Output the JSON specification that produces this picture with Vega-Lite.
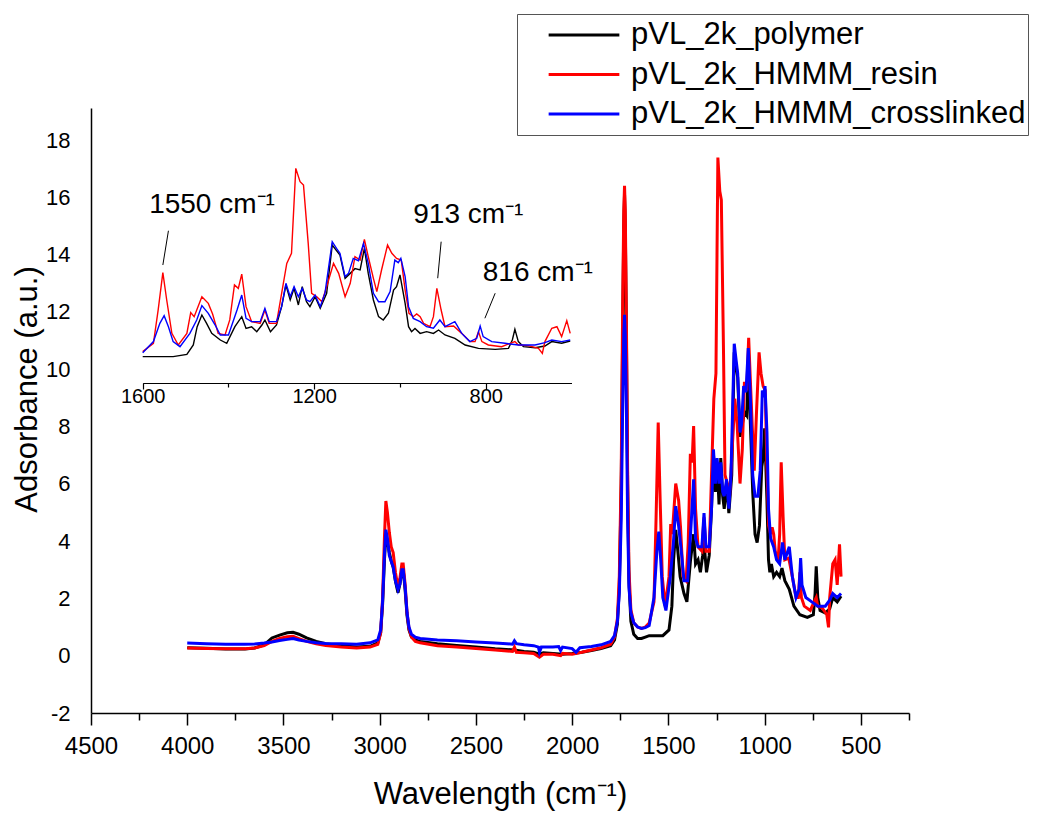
{
  "$schema": "https://vega.github.io/schema/vega-lite/v6.json",
  "width": 818,
  "height": 605,
  "autosize": {"type": "none"},
  "padding": {"left": 91, "top": 108, "right": 137, "bottom": 102},
  "config": {"font": "Liberation Sans", "view": {"stroke": null}, "axis": {"labelColor": "#000", "titleColor": "#000", "titleFontWeight": "normal", "grid": false}},
  "datasets": {
    "spectra": [
      {"s":"pVL_2k_polymer","wn":4000,"val":0.28},{"s":"pVL_2k_polymer","wn":3900,"val":0.26},{"s":"pVL_2k_polymer","wn":3800,"val":0.23},{"s":"pVL_2k_polymer","wn":3700,"val":0.23},{"s":"pVL_2k_polymer","wn":3650,"val":0.27},{"s":"pVL_2k_polymer","wn":3600,"val":0.38},{"s":"pVL_2k_polymer","wn":3560,"val":0.62},{"s":"pVL_2k_polymer","wn":3520,"val":0.72},{"s":"pVL_2k_polymer","wn":3480,"val":0.8},{"s":"pVL_2k_polymer","wn":3450,"val":0.82},{"s":"pVL_2k_polymer","wn":3420,"val":0.75},{"s":"pVL_2k_polymer","wn":3380,"val":0.62},{"s":"pVL_2k_polymer","wn":3330,"val":0.5},{"s":"pVL_2k_polymer","wn":3280,"val":0.42},{"s":"pVL_2k_polymer","wn":3200,"val":0.35},{"s":"pVL_2k_polymer","wn":3120,"val":0.3},{"s":"pVL_2k_polymer","wn":3050,"val":0.33},{"s":"pVL_2k_polymer","wn":3010,"val":0.45},{"s":"pVL_2k_polymer","wn":2995,"val":0.8},{"s":"pVL_2k_polymer","wn":2985,"val":1.8},{"s":"pVL_2k_polymer","wn":2975,"val":3.4},{"s":"pVL_2k_polymer","wn":2968,"val":4.2},{"s":"pVL_2k_polymer","wn":2960,"val":4.0},{"s":"pVL_2k_polymer","wn":2950,"val":3.6},{"s":"pVL_2k_polymer","wn":2940,"val":3.3},{"s":"pVL_2k_polymer","wn":2930,"val":3.1},{"s":"pVL_2k_polymer","wn":2918,"val":2.6},{"s":"pVL_2k_polymer","wn":2905,"val":2.2},{"s":"pVL_2k_polymer","wn":2895,"val":2.5},{"s":"pVL_2k_polymer","wn":2885,"val":3.0},{"s":"pVL_2k_polymer","wn":2878,"val":3.0},{"s":"pVL_2k_polymer","wn":2868,"val":2.3},{"s":"pVL_2k_polymer","wn":2858,"val":1.4},{"s":"pVL_2k_polymer","wn":2848,"val":0.9},{"s":"pVL_2k_polymer","wn":2835,"val":0.65},{"s":"pVL_2k_polymer","wn":2815,"val":0.55},{"s":"pVL_2k_polymer","wn":2790,"val":0.5},{"s":"pVL_2k_polymer","wn":2700,"val":0.42},{"s":"pVL_2k_polymer","wn":2600,"val":0.36},{"s":"pVL_2k_polymer","wn":2500,"val":0.3},{"s":"pVL_2k_polymer","wn":2400,"val":0.24},{"s":"pVL_2k_polymer","wn":2300,"val":0.2},{"s":"pVL_2k_polymer","wn":2250,"val":0.15},{"s":"pVL_2k_polymer","wn":2200,"val":0.12},{"s":"pVL_2k_polymer","wn":2170,"val":0.05},{"s":"pVL_2k_polymer","wn":2150,"val":0.1},{"s":"pVL_2k_polymer","wn":2100,"val":0.08},{"s":"pVL_2k_polymer","wn":2050,"val":0.05},{"s":"pVL_2k_polymer","wn":2000,"val":0.08},{"s":"pVL_2k_polymer","wn":1950,"val":0.12},{"s":"pVL_2k_polymer","wn":1900,"val":0.18},{"s":"pVL_2k_polymer","wn":1850,"val":0.25},{"s":"pVL_2k_polymer","wn":1800,"val":0.35},{"s":"pVL_2k_polymer","wn":1780,"val":0.55},{"s":"pVL_2k_polymer","wn":1765,"val":1.1},{"s":"pVL_2k_polymer","wn":1755,"val":2.4},{"s":"pVL_2k_polymer","wn":1745,"val":6.0},{"s":"pVL_2k_polymer","wn":1738,"val":11.0},{"s":"pVL_2k_polymer","wn":1732,"val":15.0},{"s":"pVL_2k_polymer","wn":1728,"val":16.1},{"s":"pVL_2k_polymer","wn":1724,"val":15.0},{"s":"pVL_2k_polymer","wn":1718,"val":11.0},{"s":"pVL_2k_polymer","wn":1712,"val":6.0},{"s":"pVL_2k_polymer","wn":1705,"val":2.6},{"s":"pVL_2k_polymer","wn":1695,"val":1.2},{"s":"pVL_2k_polymer","wn":1680,"val":0.75},{"s":"pVL_2k_polymer","wn":1660,"val":0.6},{"s":"pVL_2k_polymer","wn":1640,"val":0.6},{"s":"pVL_2k_polymer","wn":1620,"val":0.65},{"s":"pVL_2k_polymer","wn":1600,"val":0.7},{"s":"pVL_2k_polymer","wn":1529,"val":0.7},{"s":"pVL_2k_polymer","wn":1497,"val":0.9},{"s":"pVL_2k_polymer","wn":1482,"val":1.73},{"s":"pVL_2k_polymer","wn":1473,"val":3.35},{"s":"pVL_2k_polymer","wn":1462,"val":4.39},{"s":"pVL_2k_polymer","wn":1451,"val":3.65},{"s":"pVL_2k_polymer","wn":1439,"val":2.76},{"s":"pVL_2k_polymer","wn":1419,"val":2.17},{"s":"pVL_2k_polymer","wn":1404,"val":1.88},{"s":"pVL_2k_polymer","wn":1385,"val":3.35},{"s":"pVL_2k_polymer","wn":1369,"val":4.24},{"s":"pVL_2k_polymer","wn":1359,"val":3.2},{"s":"pVL_2k_polymer","wn":1346,"val":3.35},{"s":"pVL_2k_polymer","wn":1334,"val":2.91},{"s":"pVL_2k_polymer","wn":1322,"val":3.5},{"s":"pVL_2k_polymer","wn":1315,"val":3.95},{"s":"pVL_2k_polymer","wn":1302,"val":2.91},{"s":"pVL_2k_polymer","wn":1288,"val":3.5},{"s":"pVL_2k_polymer","wn":1276,"val":5.13},{"s":"pVL_2k_polymer","wn":1266,"val":7.05},{"s":"pVL_2k_polymer","wn":1256,"val":5.72},{"s":"pVL_2k_polymer","wn":1247,"val":6.75},{"s":"pVL_2k_polymer","wn":1237,"val":5.28},{"s":"pVL_2k_polymer","wn":1228,"val":6.9},{"s":"pVL_2k_polymer","wn":1218,"val":5.57},{"s":"pVL_2k_polymer","wn":1210,"val":5.13},{"s":"pVL_2k_polymer","wn":1198,"val":6.01},{"s":"pVL_2k_polymer","wn":1186,"val":4.98},{"s":"pVL_2k_polymer","wn":1171,"val":6.31},{"s":"pVL_2k_polymer","wn":1158,"val":10.59},{"s":"pVL_2k_polymer","wn":1140,"val":9.71},{"s":"pVL_2k_polymer","wn":1128,"val":7.64},{"s":"pVL_2k_polymer","wn":1116,"val":8.08},{"s":"pVL_2k_polymer","wn":1105,"val":8.5},{"s":"pVL_2k_polymer","wn":1093,"val":8.38},{"s":"pVL_2k_polymer","wn":1083,"val":10.3},{"s":"pVL_2k_polymer","wn":1074,"val":8.08},{"s":"pVL_2k_polymer","wn":1062,"val":5.72},{"s":"pVL_2k_polymer","wn":1050,"val":4.24},{"s":"pVL_2k_polymer","wn":1039,"val":3.95},{"s":"pVL_2k_polymer","wn":1027,"val":4.54},{"s":"pVL_2k_polymer","wn":1015,"val":6.6},{"s":"pVL_2k_polymer","wn":1008,"val":6.9},{"s":"pVL_2k_polymer","wn":1000,"val":7.94},{"s":"pVL_2k_polymer","wn":988,"val":5.42},{"s":"pVL_2k_polymer","wn":980,"val":3.35},{"s":"pVL_2k_polymer","wn":973,"val":2.91},{"s":"pVL_2k_polymer","wn":965,"val":3.2},{"s":"pVL_2k_polymer","wn":953,"val":2.76},{"s":"pVL_2k_polymer","wn":938,"val":2.91},{"s":"pVL_2k_polymer","wn":922,"val":2.76},{"s":"pVL_2k_polymer","wn":910,"val":3.06},{"s":"pVL_2k_polymer","wn":895,"val":2.62},{"s":"pVL_2k_polymer","wn":872,"val":2.32},{"s":"pVL_2k_polymer","wn":848,"val":1.73},{"s":"pVL_2k_polymer","wn":817,"val":1.43},{"s":"pVL_2k_polymer","wn":778,"val":1.34},{"s":"pVL_2k_polymer","wn":747,"val":1.43},{"s":"pVL_2k_polymer","wn":738,"val":2.17},{"s":"pVL_2k_polymer","wn":732,"val":3.12},{"s":"pVL_2k_polymer","wn":724,"val":2.03},{"s":"pVL_2k_polymer","wn":712,"val":1.58},{"s":"pVL_2k_polymer","wn":685,"val":1.49},{"s":"pVL_2k_polymer","wn":662,"val":1.64},{"s":"pVL_2k_polymer","wn":646,"val":2.03},{"s":"pVL_2k_polymer","wn":623,"val":1.88},{"s":"pVL_2k_polymer","wn":603,"val":2.08},

      {"s":"pVL_2k_HMMM_resin","wn":4000,"val":0.27},{"s":"pVL_2k_HMMM_resin","wn":3900,"val":0.25},{"s":"pVL_2k_HMMM_resin","wn":3800,"val":0.24},{"s":"pVL_2k_HMMM_resin","wn":3700,"val":0.24},{"s":"pVL_2k_HMMM_resin","wn":3650,"val":0.27},{"s":"pVL_2k_HMMM_resin","wn":3600,"val":0.35},{"s":"pVL_2k_HMMM_resin","wn":3560,"val":0.5},{"s":"pVL_2k_HMMM_resin","wn":3520,"val":0.6},{"s":"pVL_2k_HMMM_resin","wn":3480,"val":0.66},{"s":"pVL_2k_HMMM_resin","wn":3450,"val":0.68},{"s":"pVL_2k_HMMM_resin","wn":3420,"val":0.6},{"s":"pVL_2k_HMMM_resin","wn":3380,"val":0.5},{"s":"pVL_2k_HMMM_resin","wn":3330,"val":0.42},{"s":"pVL_2k_HMMM_resin","wn":3280,"val":0.36},{"s":"pVL_2k_HMMM_resin","wn":3200,"val":0.3},{"s":"pVL_2k_HMMM_resin","wn":3120,"val":0.27},{"s":"pVL_2k_HMMM_resin","wn":3050,"val":0.3},{"s":"pVL_2k_HMMM_resin","wn":3010,"val":0.4},{"s":"pVL_2k_HMMM_resin","wn":2995,"val":0.8},{"s":"pVL_2k_HMMM_resin","wn":2985,"val":2.0},{"s":"pVL_2k_HMMM_resin","wn":2975,"val":4.2},{"s":"pVL_2k_HMMM_resin","wn":2968,"val":5.4},{"s":"pVL_2k_HMMM_resin","wn":2960,"val":5.0},{"s":"pVL_2k_HMMM_resin","wn":2950,"val":4.3},{"s":"pVL_2k_HMMM_resin","wn":2940,"val":3.8},{"s":"pVL_2k_HMMM_resin","wn":2930,"val":3.6},{"s":"pVL_2k_HMMM_resin","wn":2918,"val":2.9},{"s":"pVL_2k_HMMM_resin","wn":2905,"val":2.4},{"s":"pVL_2k_HMMM_resin","wn":2895,"val":2.7},{"s":"pVL_2k_HMMM_resin","wn":2885,"val":3.2},{"s":"pVL_2k_HMMM_resin","wn":2878,"val":3.2},{"s":"pVL_2k_HMMM_resin","wn":2868,"val":2.5},{"s":"pVL_2k_HMMM_resin","wn":2858,"val":1.5},{"s":"pVL_2k_HMMM_resin","wn":2848,"val":0.95},{"s":"pVL_2k_HMMM_resin","wn":2835,"val":0.65},{"s":"pVL_2k_HMMM_resin","wn":2815,"val":0.5},{"s":"pVL_2k_HMMM_resin","wn":2790,"val":0.45},{"s":"pVL_2k_HMMM_resin","wn":2700,"val":0.35},{"s":"pVL_2k_HMMM_resin","wn":2600,"val":0.3},{"s":"pVL_2k_HMMM_resin","wn":2500,"val":0.25},{"s":"pVL_2k_HMMM_resin","wn":2400,"val":0.2},{"s":"pVL_2k_HMMM_resin","wn":2310,"val":0.15},{"s":"pVL_2k_HMMM_resin","wn":2300,"val":0.3},{"s":"pVL_2k_HMMM_resin","wn":2290,"val":0.12},{"s":"pVL_2k_HMMM_resin","wn":2250,"val":0.1},{"s":"pVL_2k_HMMM_resin","wn":2200,"val":0.08},{"s":"pVL_2k_HMMM_resin","wn":2170,"val":-0.05},{"s":"pVL_2k_HMMM_resin","wn":2150,"val":0.05},{"s":"pVL_2k_HMMM_resin","wn":2100,"val":0.05},{"s":"pVL_2k_HMMM_resin","wn":2060,"val":0.0},{"s":"pVL_2k_HMMM_resin","wn":2050,"val":0.08},{"s":"pVL_2k_HMMM_resin","wn":2000,"val":0.05},{"s":"pVL_2k_HMMM_resin","wn":1950,"val":0.12},{"s":"pVL_2k_HMMM_resin","wn":1900,"val":0.2},{"s":"pVL_2k_HMMM_resin","wn":1850,"val":0.28},{"s":"pVL_2k_HMMM_resin","wn":1800,"val":0.4},{"s":"pVL_2k_HMMM_resin","wn":1780,"val":0.65},{"s":"pVL_2k_HMMM_resin","wn":1765,"val":1.3},{"s":"pVL_2k_HMMM_resin","wn":1755,"val":2.8},{"s":"pVL_2k_HMMM_resin","wn":1745,"val":6.5},{"s":"pVL_2k_HMMM_resin","wn":1738,"val":12.0},{"s":"pVL_2k_HMMM_resin","wn":1732,"val":15.5},{"s":"pVL_2k_HMMM_resin","wn":1728,"val":16.4},{"s":"pVL_2k_HMMM_resin","wn":1724,"val":15.5},{"s":"pVL_2k_HMMM_resin","wn":1718,"val":11.5},{"s":"pVL_2k_HMMM_resin","wn":1712,"val":6.5},{"s":"pVL_2k_HMMM_resin","wn":1705,"val":3.0},{"s":"pVL_2k_HMMM_resin","wn":1695,"val":1.6},{"s":"pVL_2k_HMMM_resin","wn":1680,"val":1.15},{"s":"pVL_2k_HMMM_resin","wn":1660,"val":1.0},{"s":"pVL_2k_HMMM_resin","wn":1640,"val":0.95},{"s":"pVL_2k_HMMM_resin","wn":1620,"val":1.0},{"s":"pVL_2k_HMMM_resin","wn":1600,"val":1.14},{"s":"pVL_2k_HMMM_resin","wn":1575,"val":1.88},{"s":"pVL_2k_HMMM_resin","wn":1564,"val":4.83},{"s":"pVL_2k_HMMM_resin","wn":1553,"val":8.14},{"s":"pVL_2k_HMMM_resin","wn":1544,"val":5.72},{"s":"pVL_2k_HMMM_resin","wn":1532,"val":2.76},{"s":"pVL_2k_HMMM_resin","wn":1517,"val":1.73},{"s":"pVL_2k_HMMM_resin","wn":1497,"val":2.76},{"s":"pVL_2k_HMMM_resin","wn":1488,"val":4.6},{"s":"pVL_2k_HMMM_resin","wn":1480,"val":4.24},{"s":"pVL_2k_HMMM_resin","wn":1462,"val":6.01},{"s":"pVL_2k_HMMM_resin","wn":1447,"val":5.42},{"s":"pVL_2k_HMMM_resin","wn":1437,"val":4.48},{"s":"pVL_2k_HMMM_resin","wn":1424,"val":2.76},{"s":"pVL_2k_HMMM_resin","wn":1408,"val":2.62},{"s":"pVL_2k_HMMM_resin","wn":1397,"val":3.95},{"s":"pVL_2k_HMMM_resin","wn":1386,"val":7.05},{"s":"pVL_2k_HMMM_resin","wn":1377,"val":6.75},{"s":"pVL_2k_HMMM_resin","wn":1369,"val":8.02},{"s":"pVL_2k_HMMM_resin","wn":1359,"val":5.13},{"s":"pVL_2k_HMMM_resin","wn":1346,"val":3.8},{"s":"pVL_2k_HMMM_resin","wn":1326,"val":3.65},{"s":"pVL_2k_HMMM_resin","wn":1315,"val":4.83},{"s":"pVL_2k_HMMM_resin","wn":1305,"val":3.65},{"s":"pVL_2k_HMMM_resin","wn":1288,"val":3.65},{"s":"pVL_2k_HMMM_resin","wn":1276,"val":6.31},{"s":"pVL_2k_HMMM_resin","wn":1264,"val":8.97},{"s":"pVL_2k_HMMM_resin","wn":1253,"val":9.86},{"s":"pVL_2k_HMMM_resin","wn":1243,"val":17.39},{"s":"pVL_2k_HMMM_resin","wn":1233,"val":16.21},{"s":"pVL_2k_HMMM_resin","wn":1225,"val":15.91},{"s":"pVL_2k_HMMM_resin","wn":1214,"val":10.74},{"s":"pVL_2k_HMMM_resin","wn":1206,"val":6.31},{"s":"pVL_2k_HMMM_resin","wn":1194,"val":6.01},{"s":"pVL_2k_HMMM_resin","wn":1182,"val":5.57},{"s":"pVL_2k_HMMM_resin","wn":1171,"val":6.9},{"s":"pVL_2k_HMMM_resin","wn":1155,"val":8.97},{"s":"pVL_2k_HMMM_resin","wn":1143,"val":8.08},{"s":"pVL_2k_HMMM_resin","wn":1128,"val":6.01},{"s":"pVL_2k_HMMM_resin","wn":1116,"val":7.2},{"s":"pVL_2k_HMMM_resin","wn":1105,"val":9.56},{"s":"pVL_2k_HMMM_resin","wn":1093,"val":9.26},{"s":"pVL_2k_HMMM_resin","wn":1083,"val":11.1},{"s":"pVL_2k_HMMM_resin","wn":1074,"val":9.56},{"s":"pVL_2k_HMMM_resin","wn":1062,"val":7.64},{"s":"pVL_2k_HMMM_resin","wn":1054,"val":6.46},{"s":"pVL_2k_HMMM_resin","wn":1043,"val":8.38},{"s":"pVL_2k_HMMM_resin","wn":1029,"val":10.59},{"s":"pVL_2k_HMMM_resin","wn":1019,"val":9.86},{"s":"pVL_2k_HMMM_resin","wn":1008,"val":9.41},{"s":"pVL_2k_HMMM_resin","wn":997,"val":9.26},{"s":"pVL_2k_HMMM_resin","wn":988,"val":6.6},{"s":"pVL_2k_HMMM_resin","wn":979,"val":4.54},{"s":"pVL_2k_HMMM_resin","wn":969,"val":4.24},{"s":"pVL_2k_HMMM_resin","wn":961,"val":4.48},{"s":"pVL_2k_HMMM_resin","wn":953,"val":4.24},{"s":"pVL_2k_HMMM_resin","wn":945,"val":3.65},{"s":"pVL_2k_HMMM_resin","wn":930,"val":3.35},{"s":"pVL_2k_HMMM_resin","wn":922,"val":4.24},{"s":"pVL_2k_HMMM_resin","wn":914,"val":6.75},{"s":"pVL_2k_HMMM_resin","wn":904,"val":4.83},{"s":"pVL_2k_HMMM_resin","wn":895,"val":3.35},{"s":"pVL_2k_HMMM_resin","wn":875,"val":3.41},{"s":"pVL_2k_HMMM_resin","wn":856,"val":2.76},{"s":"pVL_2k_HMMM_resin","wn":837,"val":2.03},{"s":"pVL_2k_HMMM_resin","wn":825,"val":2.03},{"s":"pVL_2k_HMMM_resin","wn":817,"val":2.91},{"s":"pVL_2k_HMMM_resin","wn":809,"val":2.03},{"s":"pVL_2k_HMMM_resin","wn":794,"val":1.73},{"s":"pVL_2k_HMMM_resin","wn":763,"val":1.58},{"s":"pVL_2k_HMMM_resin","wn":743,"val":1.88},{"s":"pVL_2k_HMMM_resin","wn":732,"val":2.03},{"s":"pVL_2k_HMMM_resin","wn":724,"val":1.73},{"s":"pVL_2k_HMMM_resin","wn":701,"val":1.67},{"s":"pVL_2k_HMMM_resin","wn":677,"val":1.43},{"s":"pVL_2k_HMMM_resin","wn":668,"val":0.99},{"s":"pVL_2k_HMMM_resin","wn":662,"val":2.03},{"s":"pVL_2k_HMMM_resin","wn":646,"val":3.21},{"s":"pVL_2k_HMMM_resin","wn":634,"val":3.35},{"s":"pVL_2k_HMMM_resin","wn":623,"val":2.47},{"s":"pVL_2k_HMMM_resin","wn":611,"val":3.89},{"s":"pVL_2k_HMMM_resin","wn":603,"val":2.76},

      {"s":"pVL_2k_HMMM_crosslinked","wn":4000,"val":0.44},{"s":"pVL_2k_HMMM_crosslinked","wn":3900,"val":0.42},{"s":"pVL_2k_HMMM_crosslinked","wn":3800,"val":0.4},{"s":"pVL_2k_HMMM_crosslinked","wn":3700,"val":0.4},{"s":"pVL_2k_HMMM_crosslinked","wn":3650,"val":0.41},{"s":"pVL_2k_HMMM_crosslinked","wn":3600,"val":0.44},{"s":"pVL_2k_HMMM_crosslinked","wn":3560,"val":0.48},{"s":"pVL_2k_HMMM_crosslinked","wn":3520,"val":0.53},{"s":"pVL_2k_HMMM_crosslinked","wn":3480,"val":0.57},{"s":"pVL_2k_HMMM_crosslinked","wn":3450,"val":0.6},{"s":"pVL_2k_HMMM_crosslinked","wn":3420,"val":0.55},{"s":"pVL_2k_HMMM_crosslinked","wn":3380,"val":0.5},{"s":"pVL_2k_HMMM_crosslinked","wn":3330,"val":0.45},{"s":"pVL_2k_HMMM_crosslinked","wn":3280,"val":0.43},{"s":"pVL_2k_HMMM_crosslinked","wn":3200,"val":0.42},{"s":"pVL_2k_HMMM_crosslinked","wn":3120,"val":0.4},{"s":"pVL_2k_HMMM_crosslinked","wn":3050,"val":0.45},{"s":"pVL_2k_HMMM_crosslinked","wn":3010,"val":0.55},{"s":"pVL_2k_HMMM_crosslinked","wn":2995,"val":0.9},{"s":"pVL_2k_HMMM_crosslinked","wn":2985,"val":1.9},{"s":"pVL_2k_HMMM_crosslinked","wn":2975,"val":3.6},{"s":"pVL_2k_HMMM_crosslinked","wn":2968,"val":4.4},{"s":"pVL_2k_HMMM_crosslinked","wn":2960,"val":4.1},{"s":"pVL_2k_HMMM_crosslinked","wn":2950,"val":3.5},{"s":"pVL_2k_HMMM_crosslinked","wn":2940,"val":3.3},{"s":"pVL_2k_HMMM_crosslinked","wn":2930,"val":3.1},{"s":"pVL_2k_HMMM_crosslinked","wn":2918,"val":2.6},{"s":"pVL_2k_HMMM_crosslinked","wn":2905,"val":2.3},{"s":"pVL_2k_HMMM_crosslinked","wn":2895,"val":2.5},{"s":"pVL_2k_HMMM_crosslinked","wn":2885,"val":3.0},{"s":"pVL_2k_HMMM_crosslinked","wn":2878,"val":3.0},{"s":"pVL_2k_HMMM_crosslinked","wn":2868,"val":2.4},{"s":"pVL_2k_HMMM_crosslinked","wn":2858,"val":1.5},{"s":"pVL_2k_HMMM_crosslinked","wn":2848,"val":1.0},{"s":"pVL_2k_HMMM_crosslinked","wn":2835,"val":0.75},{"s":"pVL_2k_HMMM_crosslinked","wn":2815,"val":0.65},{"s":"pVL_2k_HMMM_crosslinked","wn":2790,"val":0.6},{"s":"pVL_2k_HMMM_crosslinked","wn":2700,"val":0.55},{"s":"pVL_2k_HMMM_crosslinked","wn":2600,"val":0.52},{"s":"pVL_2k_HMMM_crosslinked","wn":2500,"val":0.48},{"s":"pVL_2k_HMMM_crosslinked","wn":2400,"val":0.44},{"s":"pVL_2k_HMMM_crosslinked","wn":2340,"val":0.42},{"s":"pVL_2k_HMMM_crosslinked","wn":2310,"val":0.4},{"s":"pVL_2k_HMMM_crosslinked","wn":2300,"val":0.52},{"s":"pVL_2k_HMMM_crosslinked","wn":2290,"val":0.42},{"s":"pVL_2k_HMMM_crosslinked","wn":2250,"val":0.38},{"s":"pVL_2k_HMMM_crosslinked","wn":2200,"val":0.35},{"s":"pVL_2k_HMMM_crosslinked","wn":2175,"val":0.3},{"s":"pVL_2k_HMMM_crosslinked","wn":2170,"val":0.12},{"s":"pVL_2k_HMMM_crosslinked","wn":2160,"val":0.3},{"s":"pVL_2k_HMMM_crosslinked","wn":2150,"val":0.3},{"s":"pVL_2k_HMMM_crosslinked","wn":2100,"val":0.3},{"s":"pVL_2k_HMMM_crosslinked","wn":2070,"val":0.32},{"s":"pVL_2k_HMMM_crosslinked","wn":2060,"val":0.18},{"s":"pVL_2k_HMMM_crosslinked","wn":2050,"val":0.3},{"s":"pVL_2k_HMMM_crosslinked","wn":2000,"val":0.25},{"s":"pVL_2k_HMMM_crosslinked","wn":1980,"val":0.12},{"s":"pVL_2k_HMMM_crosslinked","wn":1960,"val":0.28},{"s":"pVL_2k_HMMM_crosslinked","wn":1900,"val":0.32},{"s":"pVL_2k_HMMM_crosslinked","wn":1850,"val":0.38},{"s":"pVL_2k_HMMM_crosslinked","wn":1800,"val":0.5},{"s":"pVL_2k_HMMM_crosslinked","wn":1780,"val":0.7},{"s":"pVL_2k_HMMM_crosslinked","wn":1765,"val":1.2},{"s":"pVL_2k_HMMM_crosslinked","wn":1755,"val":2.2},{"s":"pVL_2k_HMMM_crosslinked","wn":1745,"val":4.8},{"s":"pVL_2k_HMMM_crosslinked","wn":1738,"val":8.5},{"s":"pVL_2k_HMMM_crosslinked","wn":1732,"val":11.2},{"s":"pVL_2k_HMMM_crosslinked","wn":1728,"val":11.9},{"s":"pVL_2k_HMMM_crosslinked","wn":1724,"val":11.2},{"s":"pVL_2k_HMMM_crosslinked","wn":1718,"val":8.5},{"s":"pVL_2k_HMMM_crosslinked","wn":1712,"val":4.8},{"s":"pVL_2k_HMMM_crosslinked","wn":1705,"val":2.4},{"s":"pVL_2k_HMMM_crosslinked","wn":1695,"val":1.5},{"s":"pVL_2k_HMMM_crosslinked","wn":1680,"val":1.15},{"s":"pVL_2k_HMMM_crosslinked","wn":1660,"val":1.0},{"s":"pVL_2k_HMMM_crosslinked","wn":1640,"val":0.95},{"s":"pVL_2k_HMMM_crosslinked","wn":1620,"val":0.98},{"s":"pVL_2k_HMMM_crosslinked","wn":1600,"val":1.05},{"s":"pVL_2k_HMMM_crosslinked","wn":1575,"val":2.03},{"s":"pVL_2k_HMMM_crosslinked","wn":1560,"val":3.65},{"s":"pVL_2k_HMMM_crosslinked","wn":1550,"val":4.33},{"s":"pVL_2k_HMMM_crosslinked","wn":1540,"val":3.35},{"s":"pVL_2k_HMMM_crosslinked","wn":1529,"val":2.03},{"s":"pVL_2k_HMMM_crosslinked","wn":1513,"val":1.58},{"s":"pVL_2k_HMMM_crosslinked","wn":1490,"val":2.76},{"s":"pVL_2k_HMMM_crosslinked","wn":1474,"val":3.95},{"s":"pVL_2k_HMMM_crosslinked","wn":1462,"val":5.22},{"s":"pVL_2k_HMMM_crosslinked","wn":1447,"val":4.54},{"s":"pVL_2k_HMMM_crosslinked","wn":1431,"val":3.5},{"s":"pVL_2k_HMMM_crosslinked","wn":1419,"val":2.62},{"s":"pVL_2k_HMMM_crosslinked","wn":1400,"val":2.62},{"s":"pVL_2k_HMMM_crosslinked","wn":1380,"val":4.83},{"s":"pVL_2k_HMMM_crosslinked","wn":1369,"val":6.16},{"s":"pVL_2k_HMMM_crosslinked","wn":1359,"val":4.09},{"s":"pVL_2k_HMMM_crosslinked","wn":1346,"val":3.8},{"s":"pVL_2k_HMMM_crosslinked","wn":1326,"val":3.8},{"s":"pVL_2k_HMMM_crosslinked","wn":1315,"val":4.98},{"s":"pVL_2k_HMMM_crosslinked","wn":1305,"val":3.8},{"s":"pVL_2k_HMMM_crosslinked","wn":1288,"val":3.8},{"s":"pVL_2k_HMMM_crosslinked","wn":1276,"val":5.13},{"s":"pVL_2k_HMMM_crosslinked","wn":1266,"val":7.2},{"s":"pVL_2k_HMMM_crosslinked","wn":1256,"val":6.01},{"s":"pVL_2k_HMMM_crosslinked","wn":1247,"val":6.9},{"s":"pVL_2k_HMMM_crosslinked","wn":1237,"val":6.01},{"s":"pVL_2k_HMMM_crosslinked","wn":1228,"val":6.75},{"s":"pVL_2k_HMMM_crosslinked","wn":1218,"val":5.72},{"s":"pVL_2k_HMMM_crosslinked","wn":1210,"val":5.57},{"s":"pVL_2k_HMMM_crosslinked","wn":1198,"val":6.16},{"s":"pVL_2k_HMMM_crosslinked","wn":1186,"val":5.13},{"s":"pVL_2k_HMMM_crosslinked","wn":1175,"val":6.31},{"s":"pVL_2k_HMMM_crosslinked","wn":1158,"val":10.89},{"s":"pVL_2k_HMMM_crosslinked","wn":1148,"val":10.3},{"s":"pVL_2k_HMMM_crosslinked","wn":1140,"val":9.86},{"s":"pVL_2k_HMMM_crosslinked","wn":1128,"val":7.79},{"s":"pVL_2k_HMMM_crosslinked","wn":1120,"val":8.08},{"s":"pVL_2k_HMMM_crosslinked","wn":1109,"val":9.41},{"s":"pVL_2k_HMMM_crosslinked","wn":1097,"val":9.2},{"s":"pVL_2k_HMMM_crosslinked","wn":1085,"val":10.74},{"s":"pVL_2k_HMMM_crosslinked","wn":1074,"val":8.97},{"s":"pVL_2k_HMMM_crosslinked","wn":1062,"val":6.31},{"s":"pVL_2k_HMMM_crosslinked","wn":1050,"val":5.57},{"s":"pVL_2k_HMMM_crosslinked","wn":1035,"val":5.57},{"s":"pVL_2k_HMMM_crosslinked","wn":1023,"val":6.46},{"s":"pVL_2k_HMMM_crosslinked","wn":1012,"val":9.26},{"s":"pVL_2k_HMMM_crosslinked","wn":1004,"val":9.03},{"s":"pVL_2k_HMMM_crosslinked","wn":998,"val":9.41},{"s":"pVL_2k_HMMM_crosslinked","wn":988,"val":7.79},{"s":"pVL_2k_HMMM_crosslinked","wn":980,"val":5.13},{"s":"pVL_2k_HMMM_crosslinked","wn":969,"val":4.09},{"s":"pVL_2k_HMMM_crosslinked","wn":953,"val":3.8},{"s":"pVL_2k_HMMM_crosslinked","wn":938,"val":3.35},{"s":"pVL_2k_HMMM_crosslinked","wn":922,"val":3.21},{"s":"pVL_2k_HMMM_crosslinked","wn":907,"val":3.95},{"s":"pVL_2k_HMMM_crosslinked","wn":895,"val":3.35},{"s":"pVL_2k_HMMM_crosslinked","wn":872,"val":3.8},{"s":"pVL_2k_HMMM_crosslinked","wn":856,"val":2.76},{"s":"pVL_2k_HMMM_crosslinked","wn":837,"val":2.03},{"s":"pVL_2k_HMMM_crosslinked","wn":821,"val":2.32},{"s":"pVL_2k_HMMM_crosslinked","wn":813,"val":3.41},{"s":"pVL_2k_HMMM_crosslinked","wn":806,"val":2.47},{"s":"pVL_2k_HMMM_crosslinked","wn":786,"val":2.03},{"s":"pVL_2k_HMMM_crosslinked","wn":755,"val":1.88},{"s":"pVL_2k_HMMM_crosslinked","wn":724,"val":1.73},{"s":"pVL_2k_HMMM_crosslinked","wn":685,"val":1.73},{"s":"pVL_2k_HMMM_crosslinked","wn":662,"val":1.94},{"s":"pVL_2k_HMMM_crosslinked","wn":646,"val":2.17},{"s":"pVL_2k_HMMM_crosslinked","wn":623,"val":2.03},{"s":"pVL_2k_HMMM_crosslinked","wn":603,"val":2.17}
    ],
    "leaders": [
      {"wn":1540,"val":11.86,"wn2":1553,"val2":8.82},
      {"wn":904,"val":10.89,"wn2":912,"val2":7.65},
      {"wn":778,"val":6.32,"wn2":802,"val2":4.1}
    ],
    "notes": [
      {"wn":1585,"val":13.43,"label":"1550 cm⁻¹"},
      {"wn":969,"val":12.52,"label":"913 cm⁻¹"},
      {"wn":807,"val":7.43,"label":"816 cm⁻¹"}
    ]
  },
  "layer": [
    {
      "data": {"name": "spectra"},
      "mark": {"type": "line", "strokeWidth": 3},
      "encoding": {
        "x": {"field": "wn", "type": "quantitative",
          "scale": {"domain": [4500, 250], "nice": false, "zero": false},
          "axis": {"title": "Wavelength (cm⁻¹)", "values": [4500,4250,4000,3750,3500,3250,3000,2750,2500,2250,2000,1750,1500,1250,1000,750,500,250],
            "labelExpr": "datum.value % 500 === 0 ? '' + datum.value : ''",
            "tickSize": {"condition": {"test": "datum.value % 500 === 0", "value": 12}, "value": 7},
            "domainColor": "#000", "domainWidth": 1.5, "tickColor": "#000", "tickWidth": 1.5,
            "labelFontSize": 24, "labelPadding": 9, "labelFlush": false, "labelOverlap": false,
            "titleFontSize": 31, "titlePadding": 21}},
        "y": {"field": "val", "type": "quantitative",
          "scale": {"domain": [-2, 19.12], "nice": false, "zero": false},
          "axis": {"title": "Adsorbance (a.u.)", "values": [-2,0,2,4,6,8,10,12,14,16,18],
            "labelExpr": "'' + datum.value",
            "ticks": false, "tickSize": 0, "domainColor": "#000", "domainWidth": 1.5,
            "labelFontSize": 22, "labelPadding": 21, "labelFlush": false,
            "titleFontSize": 31, "titlePadding": 2, "titleY": 281}},
        "color": {"field": "s", "type": "nominal",
          "scale": {"domain": ["pVL_2k_polymer", "pVL_2k_HMMM_resin", "pVL_2k_HMMM_crosslinked"], "range": ["#000000", "#ff0000", "#0000ff"]},
          "legend": {"title": null, "orient": "none", "legendX": 426, "legendY": -94,
            "symbolType": "stroke", "symbolSize": 5000, "symbolStrokeWidth": 3,
            "clipHeight": 38, "rowPadding": 1.5, "padding": 2, "symbolOffset": 28, "labelOffset": 10,
            "labelFontSize": 31, "labelColor": "#000", "labelLimit": 600,
            "strokeColor": "#555", "fillColor": "#ffffff"}}
      }
    },
    {
      "layer": [
        {
          "data": {"name": "spectra"},
          "transform": [{"filter": "datum.wn <= 1600 && datum.wn >= 600"}],
          "mark": {"type": "line", "strokeWidth": 1.4},
          "encoding": {
            "x": {"field": "wn", "type": "quantitative",
              "scale": {"domain": [1600, 600], "range": [51.7, 480.5], "nice": false, "zero": false},
              "axis": {"title": null, "orient": "bottom", "offset": -330, "values": [1600,1400,1200,1000,800],
                "labelExpr": "datum.value % 400 === 0 ? '' + datum.value : ''",
                "tickSize": {"condition": {"test": "datum.value % 400 === 0", "value": 6}, "value": 4},
                "domainColor": "#000", "domainWidth": 1.2, "tickColor": "#000", "tickWidth": 1.2,
                "labelFontSize": 20, "labelPadding": -3, "labelFlush": false, "labelOverlap": false}},
            "y": {"field": "val", "type": "quantitative",
              "scale": {"domain": [0, 18], "range": [256.5, 53.5], "nice": false, "zero": false},
              "axis": null},
            "color": {"field": "s", "type": "nominal", "legend": null}
          }
        },
        {
          "data": {"name": "leaders"},
          "mark": {"type": "rule", "color": "#000", "strokeWidth": 1},
          "encoding": {
            "x": {"field": "wn", "type": "quantitative"},
            "x2": {"field": "wn2"},
            "y": {"field": "val", "type": "quantitative"},
            "y2": {"field": "val2"}
          }
        },
        {
          "data": {"name": "notes"},
          "mark": {"type": "text", "align": "left", "baseline": "alphabetic", "fontSize": 28, "color": "#000"},
          "encoding": {
            "x": {"field": "wn", "type": "quantitative"},
            "y": {"field": "val", "type": "quantitative"},
            "text": {"field": "label"}
          }
        }
      ]
    }
  ],
  "resolve": {"scale": {"x": "independent", "y": "independent"}}
}
